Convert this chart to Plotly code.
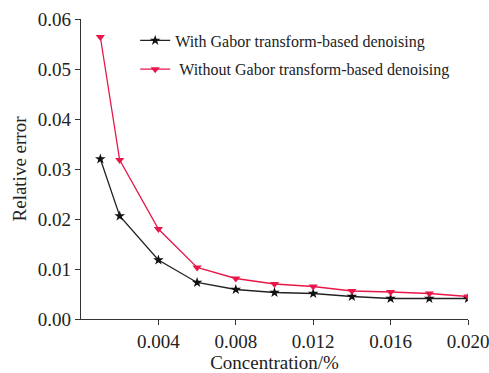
import plotly.graph_objects as go

concentration = [0.001, 0.002, 0.004, 0.006, 0.008, 0.010, 0.012, 0.014, 0.016, 0.018, 0.020]
with_gabor = [0.0320, 0.0206, 0.0118, 0.0073, 0.0059, 0.0053, 0.0051, 0.0045, 0.0041, 0.0041, 0.0041]
without_gabor = [0.0564, 0.0318, 0.0180, 0.0103, 0.0081, 0.0070, 0.0065, 0.0056, 0.0054, 0.0051, 0.0045]
x_ticks = [0.004, 0.008, 0.012, 0.016, 0.020]
y_ticks = [0.00, 0.01, 0.02, 0.03, 0.04, 0.05, 0.06]

FONT = "Liberation Serif"

fig = go.Figure()
fig.add_trace(go.Scatter(
    x=concentration, y=with_gabor, mode="lines+markers",
    name="With Gabor transform-based denoising", legendgroup="a",
    line=dict(color="#222222", width=1.3),
    marker=dict(symbol="star", size=8, color="#111111"),
))
fig.add_trace(go.Scatter(
    x=concentration, y=without_gabor, mode="lines+markers",
    name="\u00a0Without Gabor transform-based denoising", legendgroup="b",
    line=dict(color="#e8174a", width=1.3),
    marker=dict(symbol="triangle-down", size=8, color="#e8174a"),
))

axis_common = dict(
    showline=True, linecolor="#333333", linewidth=1.2,
    ticks="outside", ticklen=5, tickcolor="#333333",
    showgrid=False, zeroline=False, automargin=False,
    ticklabeloverflow="allow",
    tickfont=dict(family=FONT, size=19, color="#222222"),
)
fig.update_xaxes(range=[0, 0.020], tickvals=x_ticks, tickformat=".3f",
                 title=dict(text="Concentration/%", font=dict(family=FONT, size=19, color="#222222"), standoff=0),
                 **axis_common)
fig.update_yaxes(range=[0, 0.06], tickvals=y_ticks, tickformat=".2f",
                 title=dict(text="Relative error", font=dict(family=FONT, size=19, color="#222222"), standoff=6),
                 **axis_common)

fig.update_layout(
    width=489, height=373,
    margin=dict(l=81, r=21, t=19, b=54),
    plot_bgcolor="white", paper_bgcolor="white",
    legend=dict(x=0.14, y=0.985, xanchor="left", yanchor="top",
                font=dict(family=FONT, size=16, color="#222222"),
                bgcolor="rgba(0,0,0,0)", tracegroupgap=5, itemwidth=30),
    showlegend=True,
)

fig.write_html("out.html")
